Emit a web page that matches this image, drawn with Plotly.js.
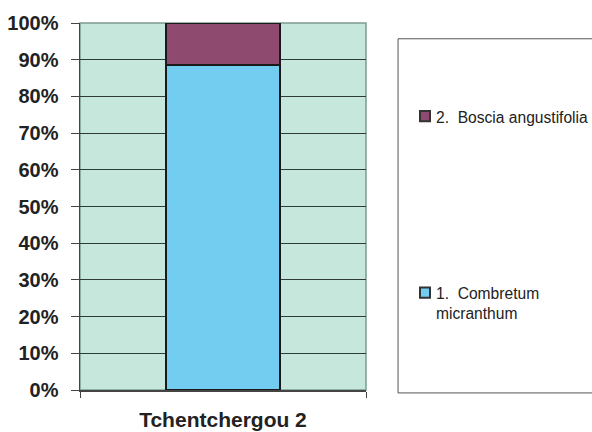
<!DOCTYPE html>
<html>
<head>
<meta charset="utf-8">
<script src="https://cdn.plot.ly/plotly-3.0.1.min.js"></script>
<style>html,body{margin:0;padding:0;background:#fff;}</style>
</head>
<body>
<div id="chart" style="width:592px;height:432px;"></div>
<script>
var categories = ['Tchentchergou 2'];
var seriesNames = ['1.  Combretum<br>micranthum', '2.  Boscia angustifolia'];
var combretum = [0.885];
var boscia = [0.115];
var seriesColors = ['#72cdf1', '#8e4a6f'];

var traces = [
  {type:'bar', x:categories, y:combretum, name:seriesNames[0],
   marker:{color:seriesColors[0], line:{color:'#1a1a1a', width:2}}, width:0.4},
  {type:'bar', x:categories, y:boscia, name:seriesNames[1],
   marker:{color:seriesColors[1], line:{color:'#1a1a1a', width:2}}, width:0.4}
];

// legend built with shapes + annotations (keeps the plot area fixed)
var legendY = [0.2793, 0.7602];   // top of each legend swatch (paper)
var legendText = [];
var legendSwatches = [];
for (var i = 0; i < seriesNames.length; i++) {
  legendSwatches.push({type:'rect', xref:'paper', yref:'paper', x0:1.1888, x1:1.2238,
    y0:legendY[i]-0.028, y1:legendY[i], fillcolor:seriesColors[i], line:{color:'#333', width:2}});
  legendText.push({xref:'paper', yref:'paper', x:1.2413, y:legendY[i]+0.0095, xanchor:'left', yanchor:'top',
    align:'left', showarrow:false, text:seriesNames[i], font:{size:15.6, color:'#222'}, borderpad:0});
}

var layout = {
  width:592, height:432,
  margin:{l:80, r:226, t:23, b:42},
  barmode:'stack',
  paper_bgcolor:'#ffffff',
  plot_bgcolor:'#c6e7dc',
  font:{family:'"Liberation Sans", Arial, sans-serif', color:'#222'},
  showlegend:false,
  xaxis:{type:'category', range:[-0.5,0.5], showgrid:false, showline:true, linecolor:'#444', linewidth:1.5,
    ticks:'outside', tickson:'boundaries', ticklen:6, tickcolor:'#444', showticklabels:false,
    title:{text:'<b>Tchentchergou 2</b>', font:{size:21, color:'#222'}, standoff:22}},
  yaxis:{range:[0,1], dtick:0.1, tickformat:'.0%', showgrid:true, gridcolor:'#2e3b36', gridwidth:1,
    showline:true, linecolor:'#444', linewidth:1.5, ticks:'outside', ticklen:8, tickcolor:'#444',
    ticklabelstandoff:8,
    tickfont:{size:20, color:'#222', weight:'bold'}, zeroline:false},
  shapes:[
    {type:'rect', xref:'paper', yref:'paper', x0:0, x1:1, y0:0, y1:1, line:{color:'#7c9c92', width:1.5}, layer:'below'},
    {type:'rect', xref:'paper', yref:'paper', x0:1.112, x1:1.85, y0:-0.008, y1:0.957, line:{color:'#555', width:1}, fillcolor:'rgba(0,0,0,0)'}
  ].concat(legendSwatches),
  annotations: legendText
};

Plotly.newPlot('chart', traces, layout, {displayModeBar:false, staticPlot:true});
</script>
</body>
</html>
